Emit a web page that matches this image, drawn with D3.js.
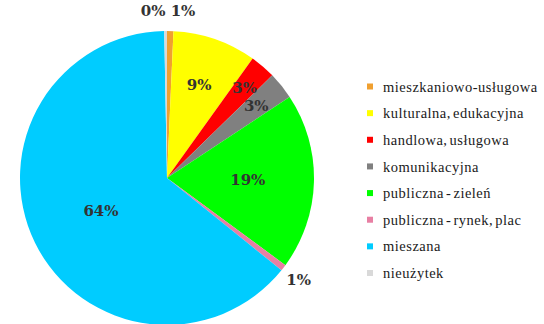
<!DOCTYPE html>
<html>
<head>
<meta charset="utf-8">
<script src="https://cdn.jsdelivr.net/npm/d3@7"></script>
<style>
    body { margin: 0; background: #fff; }
    .legend text { font-family: "Liberation Serif", serif; font-size: 14.5px; fill: #1a1a1a; letter-spacing: 0.5px; word-spacing: -2px; }
    .plabel { font-family: "DejaVu Serif", serif; font-weight: bold; font-size: 15px; fill: #333; }
</style>
</head>
<body>
<div id="scene"></div>
<script>
// categories, shares (%) and the printed labels
const categories = [
    'mieszkaniowo-usługowa',
    'kulturalna, edukacyjna',
    'handlowa, usługowa',
    'komunikacyjna',
    'publiczna - zieleń',
    'publiczna - rynek, plac',
    'mieszana',
    'nieużytek'
];
const shares = [0.7, 9.2, 2.8, 3.0, 19.4, 0.7, 63.9, 0.3];
const labels = ['1%', '9%', '3%', '3%', '19%', '1%', '64%', '0%'];
const colours = ['#f0a030', '#ffff00', '#ff0000', '#808080', '#00ff00', '#e87fa3', '#00ccff', '#d9d9d9'];

const width = 544;
const height = 324;
const radius = 147;
const cx = 167;
const cy = 178;

// where each data label sits, as a fraction of the radius
const labelRadius = [1.14, 0.67, 0.81, 0.78, 0.55, 1.13, 0.5, 1.14];
const labelAnchor = ['start', 'middle', 'middle', 'middle', 'middle', 'middle', 'middle', 'end'];

const svg = d3.select('#scene')
    .append('svg')
    .attr('width', width)
    .attr('height', height);

const pieData = d3.pie().sort(null).value(d => d)(shares);
const arc = d3.arc().innerRadius(0).outerRadius(radius);

const chart = svg.append('g')
    .attr('transform', `translate(${cx},${cy})`);

chart.selectAll('path')
    .data(pieData)
    .enter().append('path')
    .attr('d', arc)
    .attr('fill', (d, i) => colours[i]);

chart.selectAll('.plabel')
    .data(pieData)
    .enter().append('text')
    .attr('class', 'plabel')
    .attr('x', (d, i) => Math.sin((d.startAngle + d.endAngle) / 2) * radius * labelRadius[i])
    .attr('y', (d, i) => -Math.cos((d.startAngle + d.endAngle) / 2) * radius * labelRadius[i])
    .attr('dy', '0.35em')
    .attr('text-anchor', (d, i) => labelAnchor[i])
    .text((d, i) => labels[i]);

const legendY = d3.scalePoint()
    .domain(categories)
    .range([86.5, 273]);

const legend = svg.append('g').attr('class', 'legend');

legend.selectAll('rect')
    .data(categories)
    .enter().append('rect')
    .attr('x', 367)
    .attr('y', d => legendY(d) - 3)
    .attr('width', 6)
    .attr('height', 6)
    .attr('fill', (d, i) => colours[i]);

legend.selectAll('text')
    .data(categories)
    .enter().append('text')
    .attr('x', 383)
    .attr('y', d => legendY(d))
    .attr('dy', '0.35em')
    .text(d => d);
</script>
</body>
</html>
